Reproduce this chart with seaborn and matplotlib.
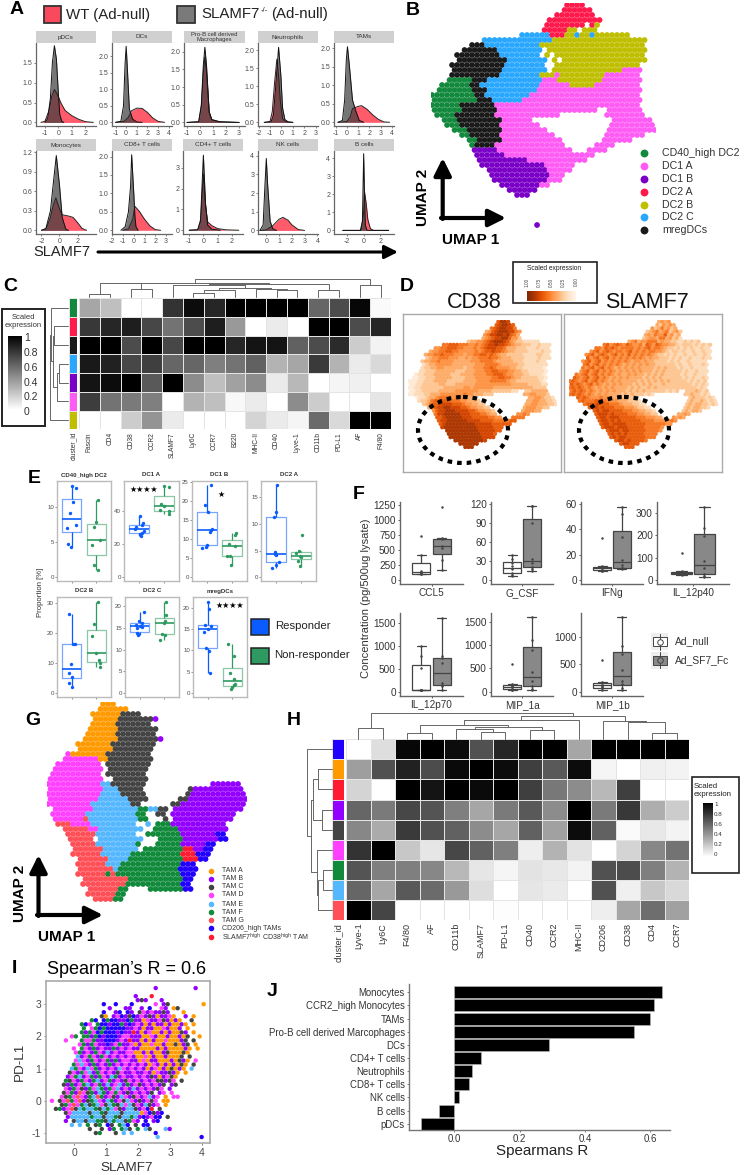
import re
import numpy as np
import pandas as pd
import matplotlib
matplotlib.use("Agg")
import matplotlib.pyplot as plt
from matplotlib.colors import ListedColormap
from matplotlib.patches import Rectangle, Ellipse
import seaborn as sns

W, H = 744, 1175
GRAY_TXT = "#4d4d4d"

# ---- A: densities
pdc_wt_x = [-1.3, -1, -.7, -.5, -.3, -.1, .2, .5, 1, 1.5, 2, 2.6]
pdc_wt_y = [0, .03, .3, .65, .83, .72, .48, .3, .17, .08, .02, 0]
pdc_ko_x = [-1, -.8, -.6, -.45, -.3, -.15, 0, .1, .25, .4]
pdc_ko_y = [0, .1, .6, 1.5, 1.93, 1.6, .7, .2, .03, 0]
dc_wt_x = [-1, -.2, .2, .5, 1, 1.5, 2, 2.5, 3, 3.6]
dc_wt_y = [0, .03, .15, .35, .43, .42, .3, .13, .03, 0]
dc_ko_x = [-1, -.5, -.25, -.1, 0, .1, .3, .6, 1, 1.5]
dc_ko_y = [0, .03, .5, 1.8, 2.3, 1.7, .4, .1, .01, 0]
prob_wt_x = [-1, -.1, .1, .25, .37, .5, .7, .9, 1.5, 3]
prob_wt_y = [0, .02, .45, 1.4, 1.85, 1.4, .3, .08, .02, 0]
prob_ko_x = [-1, -.1, .1, .25, .37, .5, .7, .9, 1.5, 3]
prob_ko_y = [0, .02, .5, 1.6, 2.13, 1.6, .3, .08, .02, 0]
neu_wt_x = [-1.5, -1, -.8, -.6, -.4, -.25, -.1, .1, .4, 1]
neu_wt_y = [0, .02, .3, 1.1, 1.75, 1.3, .6, .1, .02, 0]
neu_ko_x = [-1.5, -.9, -.7, -.5, -.25, -.05, .1, .3, .6, 1]
neu_ko_y = [0, .02, .2, 1, 2.08, 1.3, .4, .08, .01, 0]
tam_wt_x = [-.8, 0, .3, .5, 1, 1.3, 1.8, 2.3, 2.8, 3.3, 3.8]
tam_wt_y = [0, .02, .15, .37, .43, .45, .35, .2, .08, .01, 0]
tam_ko_x = [-.8, -.4, -.2, -.05, .05, .2, .5, .8, 1.1, 1.5]
tam_ko_y = [0, .05, .6, 1.7, 2.04, 1.6, .6, .3, .05, 0]
mono_wt_x = [-2, -1.5, -1, -.7, -.4, 0, .3, 1, 1.5, 2, 2.5, 3]
mono_wt_y = [0, .02, .2, .38, .5, .33, .24, .22, .2, .12, .03, 0]
mono_ko_x = [-2, -1.5, -1, -.7, -.35, 0, .3, .7, 1]
mono_ko_y = [0, .03, .3, .7, 1.15, .7, .2, .02, 0]
cd8_wt_x = [-1, -.5, -.1, .1, .5, 1, 1.5, 2, 2.5]
cd8_wt_y = [0, .04, .3, .65, .52, .3, .12, .02, 0]
cd8_ko_x = [-1.2, -.8, -.5, -.3, -.2, 0, .1, .2, .4]
cd8_ko_y = [0, .1, .5, 1.2, 2.05, 1, .4, .1, 0]
cd4_wt_x = [-1, -.4, -.2, 0, .15, .3, .6, 1, 1.6, 2.5]
cd4_wt_y = [0, .02, .4, 2.7, 1.2, .4, .22, .08, .02, 0]
cd4_ko_x = [-1, -.4, -.2, 0, .15, .3, .6, 1.2]
cd4_ko_y = [0, .02, .5, 3.6, 1.3, .25, .05, 0]
nk_wt_x = [-.5, 0, .5, 1, 1.3, 1.7, 2, 2.5, 3]
nk_wt_y = [0, .03, .25, .6, .7, .55, .3, .05, 0]
nk_ko_x = [-.5, -.25, -.1, 0, .1, .3, .5, .8]
nk_ko_y = [0, .3, 2.5, 3.85, 2.5, .5, .1, 0]
b_wt_x = [-2.5, -.3, 0, .1, .3, .5, .8, 1.2, 3]
b_wt_y = [0, 0, 1, 2.15, 1.5, .6, .1, 0, 0]
b_ko_x = [-2.5, -.4, -.15, 0, .1, .2, .4, 3]
b_ko_y = [0, 0, .5, 4.25, 2, .3, 0, 0]

# ---- B: cluster map of the UMAP, run-length per row
B_ROWS = ["27.4r", "26.6r", "25.8r", "23.11r", "23.8r1.1r1y", "22.5r2y1.3y", "18.6b3r2y1b2y1b7y",
          "10.14b19y", "8.3k11b21y", "6.7k9b1.20y", "5.9k8b1.1y1.18y", "5.10k8b1.1y1.17y",
          "4.11k8b2.17y", "4.10k9b1.14y4p", "4.10k8b3y1p9y7p", "3.5g3k11b3p9y8p", "2.6g2k12b6p5y9p",
          "1.7g3k10b21p", "9g2k9b22p", "9g3k6b24p", "6g7k29p", "6g7k20p2.7p", "1.4g8k13p9.8p",
          "2.3g9k6p16.8p", "3.3g8k8p14.9p", "4.3g7k9p12.10p", "6.2g6k11p10.8p", "7.2g5k12p8.6p",
          "8.1g4k14p6.4p", "8.5u15p3.4p", "9.6u18p", "9.10u12p", "10.13u6p", "11.12u5p", "12.12u3p",
          "12.11u3p", "14.8u2p", "15.6u", "17.3u", "", "", "", "", "", "21.1u"]
B_NAMES = ["CD40_high DC2", "DC1 A", "DC1 B", "DC2 A", "DC2 B", "DC2 C", "mregDCs"]
B_KEYS = ["g", "p", "u", "r", "y", "b", "k"]
B_COLORS = ["#12893c", "#ff5cf5", "#7a00c8", "#ff1a4b", "#bfbf00", "#2aa8ff", "#1a1a1a"]

# ---- C: heatmap
C_COLS = ["Fascin", "CD4", "CD38", "CCR2", "SLAMF7", "Ly6C", "CCR7", "B220", "MHC-II", "CD40", "Lyve-1", "CD11b", "PD-L1", "AF", "F4/80"]
C_R1 = [.35, .25, 0, 0, .8, .95, .85, 1, 1, 1, 1, .6, .7, .97, .02]
C_R2 = [.78, .85, .88, .72, .55, .7, .88, .4, 0, .08, 0, 1, 1, .7, .85]
C_R3 = [1, 1, .7, 1, .72, 1, 1, .85, .92, .92, .62, .7, .83, .2, .05]
C_R4 = [.9, .87, .72, .75, .6, .6, .5, .55, .62, .3, .35, .77, .3, .08, .15]
C_R5 = [.92, .95, 1, .65, 1, .45, .25, .37, .45, .08, .28, 0, .04, .06, 0]
C_R6 = [.76, .55, .52, .5, 0, .3, .25, .03, .08, 0, .45, .2, 0, 0, .1]
C_R7 = [0, 0, .2, .42, .08, 0, 0, 0, .17, .08, .04, .58, .15, 1, 1]
C_SIDE = ["#12893c", "#ff1a4b", "#1a1a1a", "#2aa8ff", "#7a00c8", "#ff5cf5", "#bfbf00"]
C_COL_TREE = [(0, 1, 3.3), (2, 3, 7.7), (15, 16, 14), (5, 6, 4.3), (18, 7, 6.7), (9, 10, 6.7), (8, 20, 7.7), (19, 21, 9.3),
              (4, 22, 11.7), (11, 12, 7.3), (23, 24, 12.7), (17, 25, 14), (13, 14, 12.3), (26, 27, 17.7)]
C_ROW_TREE = [(1, 2, 14), (3, 4, 9), (8, 5, 10.7), (7, 9, 15), (0, 10, 17), (11, 6, 17.7)]

# ---- D: expression level per cell (0-9), same layout as B
CD38_ROWS = ["27.7998", "26.789987", "25.67899886", "23.45789998865", "23.56889989764", "22.456788997553",
             "18.3445567899987543322222", "10.667776665565678898876544333223222", "8.55667776655565678887764443332223222",
             "6.4556677665555565677877654433332222322", "5.45566766655545566776765443333322223322", "5.34556665554454556667665444333322223222",
             "4.34455655554444455566665444443332222322", "4.23445555544444445556666544444332222222", "4.23344554444443445556676555544332222221",
             "3.223334444443334445556677666554433222221", "2.1223334444433344445555667776554443322221", "1.11223334444433334445555566776654433333221",
             "0.111223334444333334444555566666544333333321", "0.112233333443334444445555555555544444333322", "0.112233333334444445545555554444444444443333",
             "0.112233333444445555555444433333322..3344444", "0.11222334445555555655444333.........44554443", "2.122344566665655544................44554332",
             "3.2334677777666554443..............445544332", "4.3467788887776554433............4455444332", "6.4678899888776554433..........45554433",
             "7.5788999888877655443........455544", "8.6889999988877766544......5565", "8.77899999888777776655...6666",
             "9.788999999888877776666677", "9.7899999999988888777777", "10.8999999999988888777", "11.99999999998888877",
             "12.999999999988887", "12.99999999998888", "14.9999999998", "15.999999", "17.999"]
SF7_ROWS = ["27.4545", "26.435454", "25.53464534", "23.34564563453", "23.45465574534", "22.345546645342",
            "18.4564556664544332232323", "10.675676576556476576554432333232323", "8.66576765666656567566543323232322322",
            "6.5675676566567565656655432332322322322", "5.56756765675657565656543323232232232232", "5.75675675656565656545443332323223222322",
            "4.56756756565656545545443333232322322222", "4.67567565656545454545443333332322322232", "4.65675675654545454544443434333232232222",
            "3.567567565654545454544434343333323223222", "2.6567567565654544545443434343333323223222", "1.76567567565454545444434343433333323232232",
            "0.676567567565454544444343434343433333232323", "0.767656756545454544434343433343333333323232", "0.676765654545454444343433434333333333333232",
            "0.676765654545454443434343333332323..3334323", "0.67676565454544443434333232.........33433232", "2.767655565554443333................34333232",
            "3.6766677665554443332..............343343232", "4.6777877766654443322............3434433232", "6.7787877766655543322..........34344332",
            "7.7878877776665544332........343443", "8.7888787777666554433......4454", "8.78878887777766655544...5454",
            "9.788787877777766665555565", "9.7887888877777766666655", "10.7888788877777666665", "11.78887887777766665",
            "12.787878777776666", "12.78788777777666", "14.7887877776", "15.788777", "17.777"]

# ---- E: proportions, with the horizontal offset of each dot
E_NAMES = ["CD40_high DC2", "DC1 A", "DC1 B", "DC2 A", "DC2 B", "DC2 C", "mregDCs"]
cd40_r = [13.1, 12.7, 10.7, 9.2, 7.5, 7.0, 4.8, 4.4]
cd40_r_off = [0, .19, .05, -.08, .16, -.2, -.16, -.03]
cd40_n = [11.1, 7.9, 7.2, 5.4, 4.6, 1.7, 1.0]
cd40_n_off = [.07, -.01, -.09, .15, -.19, -.09, .07]
dc1a_r = [37, 33, 32, 30.5, 29.5, 28, 27, 26, 25]
dc1a_r_off = [.05, .16, .13, -.12, -.17, .19, .1, .05, .07]
dc1a_n = [55.5, 54.5, 44.5, 43.5, 41, 40, 38.5]
dc1a_n_off = [-.01, .2, -.13, 0, -.16, .2, .2]
dc1b_r = [24.1, 19, 17.2, 12.8, 12.3, 12, 8.4, 8, 7.6]
dc1b_r_off = [.16, -.07, .05, .19, .16, .12, -.01, -.04, -.2]
dc1b_n = [11.5, 11, 8.7, 8.2, 5.7, 5.6, 3.3]
dc1b_n_off = [.16, .13, -.13, .12, -.19, -.08, -.03]
dc2a_r = [17.3, 12.2, 11.4, 4.7, 4.4, 4.2, 2.8, 2.4, 1.7]
dc2a_r_off = [.04, .01, -.08, -.04, -.03, .0, .13, 0, -.17]
dc2a_n = [8, 4.9, 4.5, 4.1, 3.8, 3.1, 2.1]
dc2a_n_off = [.04, -.07, -.19, -.03, .01, -.13, -.03]
dc2b_r = [26.2, 16.4, 16.4, 9.6, 6.6, 5.5, 3.5, 2]
dc2b_r_off = [-.13, .04, .13, -.03, -.13, 0, -.13, .03]
dc2b_n = [30.5, 23, 19, 13.2, 11, 10, 8.7]
dc2b_n_off = [.08, -.08, -.19, -.03, .12, .17, .16]
dc2c_r = [18.7, 16.7, 16.2, 15.7, 15.5, 15.3, 15, 13.9, 13.7, 13.4]
dc2c_r_off = [.17, -.05, .11, -.16, 0, .08, -.12, -.12, -.09, -.09]
dc2c_n = [21, 18, 16.5, 16.1, 13.7, 13.4, 12.2]
dc2c_n_off = [.05, .05, .04, 0, -.09, .01, -.17]
mreg_r = [21.3, 19.6, 15.9, 15.6, 14.9, 14.3, 10.6, 9.8, 4.7]
mreg_r_off = [.03, .07, -.12, .13, 0, -.15, -.08, .07, .11]
mreg_n = [11.4, 8.6, 4.8, 3.2, 2.2, 1.8, 1.4, 1.0]
mreg_n_off = [-.18, .05, -.11, .07, .13, .07, 0, -.05]

# ---- F: cytokines
F_NAMES = ["CCL5", "G_CSF", "IFNg", "IL_12p40", "IL_12p70", "MIP_1a", "MIP_1b"]
ccl5_null = [105, 110, 115, 130, 160, 420, 725]
ccl5_sf7 = [170, 330, 530, 560, 680, 700, 1210]
gcsf_null = [7, 8, 12, 18, 22, 27, 33, 40]
gcsf_sf7 = [14, 18, 21, 28, 34, 90, 116, 117]
ifng_null = [7, 7.5, 8, 9.5, 10, 10.5, 11, 33]
ifng_sf7 = [9, 9.5, 10, 12, 16, 34, 52, 57]
p40_null = [25, 28, 31, 33, 38, 40, 122]
p40_sf7 = [16, 18, 30, 55, 85, 195, 230, 325]
p70_null = [28, 30, 32, 35, 35, 520, 780, 1000]
p70_sf7 = [30, 120, 150, 190, 630, 740, 780, 1620]
mip1a_null = [30, 40, 60, 100, 110, 130, 160, 590]
mip1a_sf7 = [30, 60, 130, 220, 420, 900, 1100, 1590]
mip1b_null = [40, 60, 80, 110, 120, 160, 175, 590]
mip1b_sf7 = [30, 60, 150, 190, 390, 700, 840, 1370]

# ---- G: cluster map of the TAM UMAP
G_ROWS = ["11.3o", "10.6o", "9.6o4c", "9.5o7c1v", "9.5o7c", "8.6o8c", "8.6o8c", "7.7o8c1v", "6.7o9c", "6.7o8c", "4.1d7o9c",
          "3.7d2o9c", "2.9d1.9c", "1.10d1.8c", "1.10d1.8c", "11d2.7c", "11d2e7c13.6v", "11d3e5c9.1c10v", "11d4e5c8.1c11v",
          "10d6e4c6.2c12v", "9d8e2c6.2c13v", "1.8d9e2f2e2c1.14v", "1.7d10e2f2.2c1.13v", "1.6d1t10e2f3.1c1.12v",
          "2.3t4d9e2.1e1.3f11v", "3.5t2d9e2.5f10v", "4.6t8e2.7f7v2n", "4.5t1.9e3.5f7v2n", "5.5t8e1f3.5f5v2n",
          "5.6t7e1.8f2s2v2n", "5.6t6e10f3s3n", "6.6t4e11f3s2n", "6.6t3e12f3n", "6.7t1e12f4n", "6.6t1f1t13f3n",
          "7.9t11f2n", "7.9t11f2n", "8.6t2f4.7f2n", "8.6t2f", "9.4t2f"]
G_NAMES = ["TAM A", "TAM B", "TAM C", "TAM D", "TAM E", "TAM F", "TAM G", "CD206_high TAMs",
           r"SLAMF7$^{\mathrm{high}}$ CD38$^{\mathrm{high}}$ TAM"]
G_KEYS = ["o", "v", "c", "d", "e", "f", "t", "n", "s"]
G_COLORS = ["#ff9a00", "#9400ff", "#444444", "#ff40ff", "#55b8ff", "#118a3c", "#ff5058", "#2200ff", "#ff1a30"]

# ---- H: heatmap
H_COLS = ["Lyve-1", "Ly6C", "F4/80", "AF", "CD11b", "SLAMF7", "PD-L1", "CD40", "CCR2", "MHC-II", "CD206", "CD38", "CD4", "CCR7"]
H_R1 = [0, .13, .97, 1, .95, .68, .85, 1, 1, .35, 1, 1, 1, 1]
H_R2 = [.38, .68, .87, .7, .96, 1, .95, .75, .65, .95, .04, 0, .06, .05]
H_R3 = [.17, 0, 1, .92, 1, .96, 1, .75, .53, .45, .28, .75, 0, 0]
H_R4 = [.6, .52, .72, .67, .5, .35, .52, .65, .45, 1, .52, .78, .32, .2]
H_R5 = [.47, .33, .77, .68, .62, .45, .35, .62, .37, .95, .62, .02, .09, .05]
H_R6 = [.8, 1, .22, .1, .72, .62, .5, .07, .3, .11, 0, .17, .47, .55]
H_R7 = [.67, .5, .5, .47, .28, .1, .04, .11, .09, .05, .68, .7, .5, .3]
H_R8 = [.6, .35, .65, .58, .4, .13, 0, .1, .08, 0, .68, .06, .22, .15]
H_R9 = [1, .73, 0, 0, 0, 0, .01, 0, 0, 0, .07, .35, .57, .37]
H_SIDE = ["#2200ff", "#ff9a00", "#ff1a30", "#9400ff", "#444444", "#ff40ff", "#118a3c", "#55b8ff", "#ff5058"]
H_COL_TREE = [(0, 1, 10.3), (2, 3, 6), (5, 6, 6.7), (4, 16, 10), (7, 8, 8.7), (17, 18, 11.7), (15, 19, 13.3), (20, 9, 18.7),
              (12, 13, 6), (11, 22, 16.7), (10, 23, 17.7), (21, 24, 22.7), (14, 25, 26)]
H_ROW_TREE = [(1, 2, 14), (3, 4, 9.7), (9, 10, 18.3), (6, 7, 8.3), (12, 8, 14), (5, 13, 15), (11, 14, 20.7), (0, 15, 25)]

# ---- I: SLAMF7 vs PD-L1, coloured by TAM cluster, one row per PD-L1 level
I_ROWS = ["..........................v.........v...",
          ".......................................",
          ".....................v...s.............",
          ".....................vcv...v...........",
          ".............n..n...n.....d.vc........o",
          "..............v...vv..v.n..dv.oc.......",
          ".............n..vn.nv.cdvdvvcv...o.....",
          "............co.vdnvcnvdvcvovvdo..v.o...",
          "..........fn.nfnnvvnfvvodvvdcvovo..c...",
          ".......fnd.fnnvnnfvnvdvovovvovoovo.o...",
          "........f.dfnfnnnnnvvdvovvoodvoov.o....",
          ".......fvfdnfnnnvnvvsvovdoovovoocv.o...",
          ".....df.ffvfnvnnnvddvvvoodvoovoovoc..o.",
          "...d...fddfvvnnnvdvsvvovovoodooovc.c...",
          ".......dfvfdvvnvdfvvdovoodoovoocovc.o..",
          ".....d.fdvfvdvvfvdvdvvoooovovoooovo.o..",
          "......dfvdvfdvevdvvddoovovoovcoooco....",
          "......evdfdvfdvdvdvdvoodovoovoooc.c....",
          "......dedvfdvdfvfvddvvodovvooovocvo.d...",
          ".....fdedvfvdvfvdvdvdvdvodvovovoco.c...",
          ".....efdvedfvdvdvedvdvdvovdovocovo.e...",
          "....cdvfdevfdvdvcdvvdvvdvodvvcvo.o.....",
          "....vdfevdfvfdvefvdvvdvdvcvovdco......",
          "...fcdvfdvfevdfvdvcdvdvdvdccvcd.c......",
          "...cvfvdfevdfvevdevfvdcvdvdvc.vc.......",
          "...dvfdcvfdefvfdevdvevdvdvcd.v.........",
          "...cdfvtdcfvefvdfdvcvdvdvc.vd.d......",
          "..dcfdtdvfetfvdcvedvcdvdevd.o.dd......",
          "d.cdtfdtvcfedvefvdcedvcvdcd.oo........",
          "..cfdtdfecfedcefcedecdvecvd.o..........",
          ".cfvdtcefeefcefedcveecvdns.c............",
          "...cdeeeeceefceeeceeeeodncvn............",
          "....veeeeefeeceefceefevnvdnn.c.........",
          "...v.ceeceeffcefeecfdv.n.vn............",
          ".....e.e.f.cf.nc.fen.c.nn...........",
          ".........c..c.vf.fec.f.ec...ev.........",
          "...........cf...c.e.e.....n..........",
          "..........................e..........n.."]

# ---- J: correlations
J_NAMES = ["Monocytes", "CCR2_high Monocytes", "TAMs", "Pro-B cell derived Marcophages", "DCs", "CD4+ T cells",
           "Neutrophils", "CD8+ T cells", "NK cells", "B cells", "pDCs"]
J_VALUES = [.637, .61, .598, .549, .29, .08, .054, .046, .014, -.046, -.102]

sns.set_theme(style="white")
plt.rcParams["font.family"] = ["Liberation Sans", "DejaVu Sans"]
plt.rcParams["mathtext.default"] = "regular"
plt.rcParams["axes.unicode_minus"] = False

fig = plt.figure(figsize=(W / 100, H / 100), dpi=100, facecolor="white")
ov = fig.add_axes([0, 0, 1, 1], zorder=10)
ov.set_xlim(0, W)
ov.set_ylim(H, 0)
ov.axis("off")
ov.patch.set_alpha(0)


def box(x0, y0, x1, y1, z=0):
    return fig.add_axes([x0 / W, 1 - y1 / H, (x1 - x0) / W, (y1 - y0) / H], zorder=z)


def txt(x, y, s, size, **kw):
    kw.setdefault("va", "center")
    kw.setdefault("color", "black")
    ov.text(x, y, s, fontsize=size, **kw)


def arrow(x0, y0, x1, y1, lw=3, scale=26):
    ov.annotate("", xy=(x1, y1), xytext=(x0, y0), arrowprops=dict(arrowstyle="-|>", lw=lw, color="black",
                                                                  mutation_scale=scale, shrinkA=0, shrinkB=0))


def run_map(rows):
    cols, lines, keys = [], [], []
    for r, row in enumerate(rows):
        c = 0
        for n, k in re.findall(r"(\d+)(\D)", row):
            for i in range(int(n)):
                if k != ".":
                    cols.append(c + .5 * (r % 2) - .25)
                    lines.append(r)
                    keys.append(k)
                c += 1
    return pd.DataFrame({"c": cols, "r": lines, "k": keys})


def digit_map(rows):
    cols, lines, lev = [], [], []
    for r, row in enumerate(rows):
        start, body = row.split(".", 1)
        for i, ch in enumerate(body):
            if ch != ".":
                cols.append(int(start) + i + .5 * (r % 2) - .25)
                lines.append(r)
                lev.append(int(ch))
    return pd.DataFrame({"c": cols, "r": lines, "lev": lev})


def umap_axes(x0, y0, step, ncol, nrow):
    ax = box(x0 - step / 2, y0 - step / 2, x0 + step * (ncol - .5), y0 + step * (nrow - .5))
    ax.set_xlim(-.5, ncol - .5)
    ax.set_ylim(nrow - .5, -.5)
    ax.axis("off")
    ax.patch.set_alpha(0)
    return ax


def dendro(merges, n, side, start, step, base, color="#666666"):
    pos = [start + step * (i + .5) for i in range(n)]
    hgt = [0] * n
    for a, b, h in merges:
        if side == "top":
            ov.plot([pos[a], pos[a], pos[b], pos[b]], [base - hgt[a], base - h, base - h, base - hgt[b]], color=color, lw=.7)
        else:
            ov.plot([base - hgt[a], base - h, base - h, base - hgt[b]], [pos[a], pos[a], pos[b], pos[b]], color=color, lw=.7)
        pos.append((pos[a] + pos[b]) / 2)
        hgt.append(h)


def heat(rows, cols, side_colors, x0, y0, x1, y1, side0, side1, fs):
    ax = box(x0, y0, x1, y1)
    df = pd.DataFrame(rows, columns=cols)
    sns.heatmap(df, ax=ax, cmap="gray_r", vmin=0, vmax=1, cbar=False, linewidths=.6, linecolor="#e4e4e4",
                xticklabels=True, yticklabels=False)
    ax.tick_params(axis="x", length=0, labelsize=fs, labelcolor="#333333", rotation=90, pad=2)
    ax.set_xlabel("")
    ax.set_ylabel("")
    sa = box(side0, y0, side1, y1)
    idx = np.arange(len(side_colors))[:, None]
    sns.heatmap(idx, ax=sa, cmap=ListedColormap(side_colors), cbar=False, linewidths=.6, linecolor="#e4e4e4",
                xticklabels=["cluster_id"], yticklabels=False)
    sa.tick_params(axis="x", length=0, labelsize=fs, labelcolor="#333333", rotation=90, pad=2)


# ---- panel A
A_PANELS = [
    ("pDCs", pdc_wt_x, pdc_wt_y, pdc_ko_x, pdc_ko_y, (36, 96), 0, (-1.67, 2.8), (-.09, 2.0), [-1, 0, 1, 2], [0, .5, 1, 1.5], "{:.1f}"),
    ("DCs", dc_wt_x, dc_wt_y, dc_ko_x, dc_ko_y, (112, 172), 0, (-1.33, 4.3), (-.11, 2.4), [-1, 0, 1, 2, 3, 4], [0, .5, 1, 1.5, 2], "{:.1f}"),
    ("Pro-B cell derived\nMacrophages", prob_wt_x, prob_wt_y, prob_ko_x, prob_ko_y, (184, 245), 0, (-1.23, 3.45), (-.1, 2.25), [-1, 0, 1, 2, 3], [0, .5, 1, 1.5, 2], "{:.1f}"),
    ("Neutrophils", neu_wt_x, neu_wt_y, neu_ko_x, neu_ko_y, (258, 318), 0, (-2.05, 3.2), (-.1, 2.2), [-2, -1, 0, 1, 2, 3], [0, .5, 1, 1.5, 2], "{:.1f}"),
    ("TAMs", tam_wt_x, tam_wt_y, tam_ko_x, tam_ko_y, (334, 394), 0, (-1.15, 4.2), (-.1, 2.14), [-1, 0, 1, 2, 3, 4], [0, .5, 1, 1.5, 2], "{:.1f}"),
    ("Monocytes", mono_wt_x, mono_wt_y, mono_ko_x, mono_ko_y, (36, 96), 1, (-2.6, 4.05), (-.056, 1.22), [-2, 0, 2], [0, .3, .6, .9, 1.2], "{:.1f}"),
    ("CD8+ T cells", cd8_wt_x, cd8_wt_y, cd8_ko_x, cd8_ko_y, (112, 172), 1, (-2.03, 3.56), (-.1, 2.15), [-2, -1, 0, 1, 2, 3], [0, .5, 1, 1.5, 2], "{:.1f}"),
    ("CD4+ T cells", cd4_wt_x, cd4_wt_y, cd4_ko_x, cd4_ko_y, (183, 243), 1, (-1.44, 2.8), (-.18, 3.8), [-1, 0, 1, 2], [0, 1, 2, 3], "{:.0f}"),
    ("NK cells", nk_wt_x, nk_wt_y, nk_ko_x, nk_ko_y, (258, 318), 1, (-.65, 4.05), (-.19, 4.25), [0, 1, 2, 3, 4], [0, 1, 2, 3, 4], "{:.0f}"),
    ("B cells", b_wt_x, b_wt_y, b_ko_x, b_ko_y, (334, 394), 1, (-3.56, 3.64), (-.2, 4.4), [-2, 0, 2], [0, 1, 2, 3, 4], "{:.0f}"),
]
for name, wx, wy, kx, ky, xs, row, xlim, ylim, xt, yt, fmt in A_PANELS:
    top, bot = (43, 126) if row == 0 else (151, 234)
    ax = box(xs[0], top, xs[1], bot)
    ax.fill_between(wx, wy, color="#ff2438", alpha=.75, lw=0)
    ax.fill_between(kx, ky, color="#3c3c3c", alpha=.7, lw=0)
    sns.lineplot(x=wx, y=wy, ax=ax, color="#222222", lw=.7, sort=False, estimator=None)
    sns.lineplot(x=kx, y=ky, ax=ax, color="#111111", lw=.7, sort=False, estimator=None)
    ax.set_xlim(xlim)
    ax.set_ylim(ylim)
    ax.set_xticks(xt)
    ax.set_yticks(yt)
    ax.set_yticklabels([fmt.format(v) for v in yt])
    ax.tick_params(labelsize=5, labelcolor=GRAY_TXT, length=1.5, width=.5, color="#555555", pad=1.2, bottom=True, left=True)
    sns.despine(ax=ax)
    for s in ("left", "bottom"):
        ax.spines[s].set_color("#666666")
        ax.spines[s].set_linewidth(.9)
    ov.add_patch(Rectangle((xs[0], top - 12), xs[1] - xs[0], 12, color="#d0d0d0", lw=0))
    txt((xs[0] + xs[1]) / 2, top - 6, name, 4.6 if "\n" not in name else 4.2, ha="center", color="#333333", linespacing=1.05)

ov.add_patch(Rectangle((43.5, 6), 17.5, 17, fc="#f94a5d", ec="#333333", lw=1.3))
txt(66, 15, "WT (Ad-null)", 10.8, color="#222222")
ov.add_patch(Rectangle((177, 5.5), 18, 17.5, fc="#7a7a7a", ec="#333333", lw=1.3))
txt(201, 14, "SLAMF7", 10.8, color="#222222")
txt(261, 10, "-/-", 5.5, color="#222222")
txt(271, 14, "(Ad-null)", 10.8, color="#222222")
txt(33, 252, "SLAMF7", 10.5, color="#222222")
arrow(98, 252, 398, 252, lw=2.2, scale=20)

# ---- panel B
ax = umap_axes(433.3, 5, 5, 45, 45)
df = run_map(B_ROWS)
sns.scatterplot(data=df, x="c", y="r", hue="k", palette=dict(zip(B_KEYS, B_COLORS)), s=17, linewidth=0, legend=False, ax=ax)
ax.set_xlim(-.5, 44.5)
ax.set_ylim(44.5, -.5)
ax.axis("off")
arrow(442.7, 219, 442.7, 158)
arrow(441, 218, 506, 218)
txt(423, 197, "UMAP 2", 11, rotation=90, ha="center", fontweight="bold")
txt(471, 240, "UMAP 1", 11, ha="center", fontweight="bold")
B_LEG_Y = [153, 166, 179, 192, 205, 217, 230]
for yy, name, col in zip(B_LEG_Y, B_NAMES, B_COLORS):
    ov.scatter([644], [yy], s=32, color=col, lw=0)
    txt(662, yy, name, 7.7, color="#333333")

# ---- panel C
C_ALL = [C_R1, C_R2, C_R3, C_R4, C_R5, C_R6, C_R7]
heat(C_ALL, C_COLS, C_SIDE, 79, 298.3, 391, 429.3, 69, 77.3, 4.8)
dendro(C_COL_TREE, 15, "top", 79, 312 / 15, 297)
dendro(C_ROW_TREE, 7, "left", 298.3, 131 / 7, 68)
ov.add_patch(Rectangle((2, 308.5), 43, 117.5, fc="white", ec="#222222", lw=1.4))
txt(23.5, 321.5, "Scaled\nexpression", 5.5, ha="center", color="#333333")
cb = box(7.5, 336, 21, 410, z=11)
cb.imshow(np.linspace(1, 0, 64)[:, None], aspect="auto", cmap="gray_r", vmin=0, vmax=1)
cb.axis("off")
C_TICK_Y = [338, 353, 368, 383, 397, 412]
for yy, lab in zip(C_TICK_Y, ["1", "0.8", "0.6", "0.4", "0.2", "0"]):
    txt(24, yy, lab, 7.5, color="#333333")

# ---- panel D
for x0, x_fr, rows, title, tx in [(410, 403, CD38_ROWS, "CD38", 474), (570.7, 564, SF7_ROWS, "SLAMF7", 647)]:
    fr = box(x_fr, 314, x_fr + 158, 472)
    fr.set_xticks([])
    fr.set_yticks([])
    for s in fr.spines.values():
        s.set_color("#aaaaaa")
        s.set_linewidth(1)
    ax = umap_axes(x0, 321.7, 3.3, 45, 39)
    df = digit_map(rows)
    sns.scatterplot(data=df, x="c", y="r", hue="lev", palette="Oranges", hue_norm=(0, 10.5), s=9, linewidth=0, legend=False, ax=ax)
    ax.set_xlim(-.5, 44.5)
    ax.set_ylim(38.5, -.5)
    ax.axis("off")
    txt(tx, 302, title, 15.5, ha="center", color="#111111")
    ov.add_patch(Ellipse((x_fr + 60, 430), 90, 66, fill=False, ec="black", lw=3, ls=(0, (1.1, 1.2))))
ov.add_patch(Rectangle((512.5, 262), 84.5, 41, fc="white", ec="#222222", lw=1.2))
txt(554, 268, "Scaled expression", 4.8, ha="center", color="#222222")
D_TICK_X = [527, 539, 551, 563, 576]
for xx, lab in zip(D_TICK_X, ["1.00", "0.75", "0.50", "0.25", "0.00"]):
    txt(xx, 282, lab, 3.4, rotation=90, ha="center", color="#444444")
cb = box(527, 291, 575, 301, z=11)
cb.imshow(np.linspace(1, 0, 64)[None, :], aspect="auto", cmap="Oranges", vmin=0, vmax=1)
cb.axis("off")

# ---- panel E
E_BOXES = [
    (cd40_r, cd40_r_off, cd40_n, cd40_n_off, (57, 111), 0, (-.52, 13.76), [0, 5, 10]),
    (dc1a_r, dc1a_r_off, dc1a_n, dc1a_n_off, (124, 179), 0, (-2.2, 58.4), [0, 20, 40]),
    (dc1b_r, dc1b_r_off, dc1b_n, dc1b_n_off, (192, 247), 0, (-.96, 25.26), [0, 5, 10, 15, 20, 25]),
    (dc2a_r, dc2a_r_off, dc2a_n, dc2a_n_off, (261, 316), 0, (-.69, 18.1), [0, 5, 10, 15]),
    (dc2b_r, dc2b_r_off, dc2b_n, dc2b_n_off, (57, 111), 1, (-1.33, 32), [0, 10, 20, 30]),
    (dc2c_r, dc2c_r_off, dc2c_n, dc2c_n_off, (125, 179), 1, (-.92, 22.15), [0, 5, 10, 15, 20]),
    (mreg_r, mreg_r_off, mreg_n, mreg_n_off, (193, 247), 1, (-.94, 22.5), [0, 5, 10, 15, 20]),
]
E_R_COL, E_N_COL = "#0a5cff", "#2e9960"
for name, (vr, orr, vn, onn, xs, row, ylim, yt) in zip(E_NAMES, E_BOXES):
    top, bot = (481, 581) if row == 0 else (597, 697)
    ax = box(xs[0], top, xs[1], bot)
    d = pd.DataFrame({"g": ["R"] * len(vr) + ["N"] * len(vn), "v": vr + vn})
    sns.boxplot(data=d, x="g", y="v", hue="g", order=["R", "N"], hue_order=["R", "N"], palette=[E_R_COL, E_N_COL], fill=False,
                width=.78, dodge=False, fliersize=0, showcaps=False, linewidth=.9, legend=False, ax=ax,
                boxprops={"alpha": .55}, medianprops={"linewidth": 1.2})
    ax.scatter(np.array(orr), vr, s=6, color=E_R_COL, lw=0, zorder=4)
    ax.scatter(1 + np.array(onn), vn, s=6, color=E_N_COL, lw=0, zorder=4)
    ax.set_xlim(-.6, 1.6)
    ax.set_ylim(ylim)
    ax.set_yticks(yt)
    ax.set_xticks([0, 1])
    ax.set_xticklabels([])
    ax.set_xlabel("")
    ax.set_ylabel("")
    ax.tick_params(labelsize=4.4, labelcolor=GRAY_TXT, length=1.2, width=.5, color="#666666", pad=1, bottom=True, left=True)
    for s in ax.spines.values():
        s.set_color("#bbbbbb")
        s.set_linewidth(1)
    txt((xs[0] + xs[1]) / 2, top - 6, name, 4.4, ha="center", fontweight="bold", color="#333333")
txt(144, 489, "★★★★", 5.8, ha="center", family="DejaVu Sans")
txt(221, 494, "★", 5.8, ha="center", family="DejaVu Sans")
txt(230, 605, "★★★★", 5.8, ha="center", family="DejaVu Sans")
txt(41, 592, "Proportion [%]", 5.6, rotation=90, ha="center", color="#333333")
ov.add_patch(Rectangle((251, 619), 18, 16, fc=E_R_COL, ec="#222222", lw=1.1))
ov.add_patch(Rectangle((251, 648), 18, 16, fc=E_N_COL, ec="#222222", lw=1.1))
txt(275, 626, "Responder", 8.2, color="#222222")
txt(274, 655, "Non-responder", 8.2, color="#222222")

# ---- panel F
F_BOXES = [
    (ccl5_null, ccl5_sf7, (400, 463), 0, (-60, 1294), [0, 250, 500, 750, 1000, 1250]),
    (gcsf_null, gcsf_sf7, (491, 553), 0, (-5.7, 123), [0, 30, 60, 90, 120]),
    (ifng_null, ifng_sf7, (581, 643), 0, (-2.9, 61.3), [0, 20, 40, 60]),
    (p40_null, p40_sf7, (657, 729), 0, (-16, 347), [0, 100, 200, 300]),
    (p70_null, p70_sf7, (400, 463), 1, (-94, 1726), [0, 500, 1000, 1500]),
    (mip1a_null, mip1a_sf7, (491, 553), 1, (-92, 1685), [0, 500, 1000, 1500]),
    (mip1b_null, mip1b_sf7, (581, 643), 1, (-79, 1446), [0, 500, 1000]),
]
for name, (vn, vs, xs, row, ylim, yt) in zip(F_NAMES, F_BOXES):
    top, bot = (502, 584) if row == 0 else (613, 696)
    ax = box(xs[0], top, xs[1], bot)
    d = pd.DataFrame({"g": ["Ad_null"] * len(vn) + ["Ad_SF7_Fc"] * len(vs), "v": vn + vs})
    order = ["Ad_null", "Ad_SF7_Fc"]
    sns.boxplot(data=d, x="g", y="v", hue="g", order=order, hue_order=order, palette=["white", "#888888"], linecolor="#444444",
                width=.9, dodge=False, fliersize=0, linewidth=.9, legend=False, ax=ax)
    sns.stripplot(data=d, x="g", y="v", order=order, color="#444444", size=1.8, jitter=False, ax=ax, zorder=4)
    ax.set_xlim(-1.07, 2.07)
    ax.set_ylim(ylim)
    ax.set_yticks(yt)
    ax.set_xticks([.5])
    ax.set_xticklabels([name])
    ax.set_xlabel("")
    ax.set_ylabel("")
    ax.tick_params(axis="x", labelsize=7.2, labelcolor="#333333", length=1.5, width=.6, color="#444444", pad=1.5, bottom=True)
    ax.tick_params(axis="y", labelsize=7.2, labelcolor="#333333", length=1.5, width=.6, color="#444444", pad=1.5, left=True)
    sns.despine(ax=ax)
    for s in ("left", "bottom"):
        ax.spines[s].set_color("#666666")
        ax.spines[s].set_linewidth(1)
txt(366, 598, "Concentration (pg/500ug lysate)", 8, rotation=90, ha="center", color="#333333")
for yy, fc, lab in [(641.5, "white", "Ad_null"), (660, "#888888", "Ad_SF7_Fc")]:
    ov.add_patch(Rectangle((651, yy - 8.5), 17, 17, fc="#eeeeee", ec="none"))
    ov.plot([659.5, 659.5], [yy - 8, yy + 8], color="#444444", lw=.7)
    ov.add_patch(Rectangle((652.5, yy - 4.5), 14, 9, fc=fc, ec="#444444", lw=.7))
    ov.scatter([659.5], [yy], s=16, fc=fc, ec="#444444", lw=.7, zorder=5)
    txt(675, yy, lab, 7.4, color="#333333")

# ---- panel G
ax = umap_axes(49.3, 704, 5, 40, 40)
df = run_map(G_ROWS)
sns.scatterplot(data=df, x="c", y="r", hue="k", palette=dict(zip(G_KEYS, G_COLORS)), s=17, linewidth=0, legend=False, ax=ax)
ax.set_xlim(-.5, 39.5)
ax.set_ylim(39.5, -.5)
ax.axis("off")
arrow(38.5, 916, 38.5, 855)
arrow(37, 915, 103, 915)
txt(20, 893, "UMAP 2", 11, rotation=90, ha="center", fontweight="bold")
txt(67, 937, "UMAP 1", 11, ha="center", fontweight="bold")
G_LEG_Y = [871, 879, 887, 895, 904, 912, 920, 928, 937]
for yy, name, col in zip(G_LEG_Y, G_NAMES, G_COLORS):
    ov.scatter([211], [yy], s=16, color=col, lw=0)
    txt(222, yy, name, 5, color="#333333")

# ---- panel H
H_ALL = [H_R1, H_R2, H_R3, H_R4, H_R5, H_R6, H_R7, H_R8, H_R9]
heat(H_ALL, H_COLS, H_SIDE, 346, 739.3, 689, 920, 332.3, 344, 6.5)
dendro(H_COL_TREE, 14, "top", 346, 343 / 14, 738.5)
dendro(H_ROW_TREE, 9, "left", 739.3, 180.7 / 9, 331.5)
ov.add_patch(Rectangle((692, 777), 47, 96, fc="white", ec="#222222", lw=1.2))
txt(694, 790, "Scaled\nexpression", 5.7, color="#222222")
cb = box(703, 803, 713, 857, z=11)
cb.imshow(np.linspace(1, 0, 64)[:, None], aspect="auto", cmap="gray_r", vmin=0, vmax=1)
cb.axis("off")
H_TICK_Y = [804, 815, 825, 835, 845, 855]
for yy, lab in zip(H_TICK_Y, ["1", "0.8", "0.6", "0.4", "0.2", "0"]):
    txt(714, yy, lab, 4.5, color="#333333")

# ---- panel I
ax = box(46, 981, 210, 1143)
i_x, i_y, i_k = [], [], []
for r, row in enumerate(I_ROWS):
    for c, ch in enumerate(row):
        if ch != ".":
            i_x.append(-.7 + .125 * (c + .5 * (r % 2)))
            i_y.append(3.5 - .125 * r)
            i_k.append(ch)
sns.scatterplot(x=i_x, y=i_y, hue=i_k, palette=dict(zip(G_KEYS, G_COLORS)), s=10, linewidth=0, legend=False, ax=ax)
ax.set_xlim(-.885, 4.25)
ax.set_ylim(-1.31, 3.72)
ax.set_xticks([0, 1, 2, 3, 4])
ax.set_yticks([-1, 0, 1, 2, 3])
ax.tick_params(labelsize=7.5, labelcolor=GRAY_TXT, length=1.5, width=.6, color="#666666", pad=2, bottom=True, left=True)
for s in ax.spines.values():
    s.set_color("#aaaaaa")
    s.set_linewidth(1.2)
txt(127, 970, "Spearman’s R = 0.6", 13, ha="center")
txt(127, 1168, "SLAMF7", 9.7, ha="center", color="#333333")
txt(20, 1062, "PD-L1", 9.7, rotation=90, ha="center", color="#333333")

# ---- panel J
ax = box(409, 984, 670, 1130)
sns.barplot(x=J_VALUES, y=J_NAMES, orient="h", color="black", width=.92, edgecolor="#bbbbbb", linewidth=.4, saturation=1, ax=ax)
ax.set_xlim(-.139, .66)
ax.set_ylim(10.48, -.63)
ax.set_xticks([0, .2, .4, .6])
ax.set_xticklabels(["0.0", "0.2", "0.4", "0.6"])
ax.tick_params(labelsize=6.9, labelcolor="#333333", length=1.5, width=.6, color="#666666", pad=1.5, bottom=True, left=True)
sns.despine(ax=ax)
for s in ("left", "bottom"):
    ax.spines[s].set_color("#777777")
    ax.spines[s].set_linewidth(1)
txt(542, 1151, "Spearmans R", 10.9, ha="center", color="#222222")

# ---- panel letters
LETTERS = [("A", 10, 10), ("B", 406, 10.5), ("C", 3, 286.5), ("D", 400, 286.5), ("E", 28, 478.5), ("F", 353, 494.5),
           ("G", 25, 720.5), ("H", 287, 720.5), ("I", 12, 968.5), ("J", 267, 992)]
for letter, xx, yy in LETTERS:
    txt(xx, yy, letter, 14, fontweight="bold")

fig.savefig("out.png", dpi=100)
